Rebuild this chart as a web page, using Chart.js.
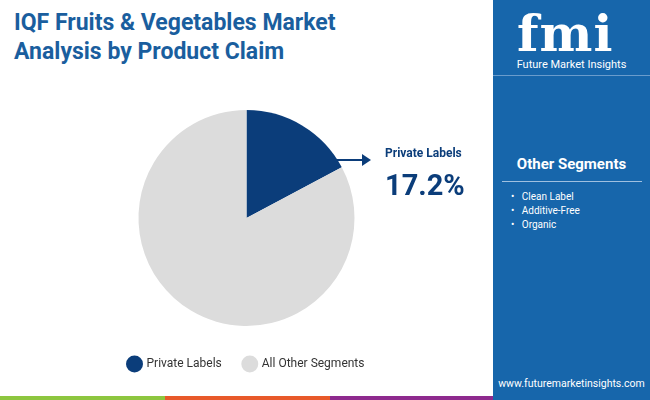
<!DOCTYPE html><html><head><meta charset="utf-8">
<script src="https://cdn.jsdelivr.net/npm/chart.js@4"></script>
<style>
body{margin:0;width:650px;height:400px;position:relative;overflow:hidden;background:#fff;font-family:Roboto,sans-serif}
#title{position:absolute;left:14px;top:8px;color:#1a5e9e;font:bold 23px/29px Roboto;}
#panel{position:absolute;left:493px;top:0;width:157px;height:400px;background:#1766ab;color:#fff}
#wrap{position:absolute;left:0;top:100px;width:493px;height:280px}
.s{position:absolute;bottom:0;height:4px}
</style></head><body>
<div id="title">IQF Fruits &amp; Vegetables Market<br>Analysis by Product Claim</div>
<div id="panel">
 <div style="position:absolute;left:24px;top:8px;font:bold 50px/52px 'DejaVu Serif';letter-spacing:1px">fmi</div>
 <div style="position:absolute;left:0;width:157px;top:58px;text-align:center;font:11px Roboto">Future Market Insights</div>
 <div style="position:absolute;left:0;top:75px;width:157px;height:1px;background:#6a9ccc"></div>
 <div style="position:absolute;left:0;width:157px;top:155px;text-align:center;font:bold 15px Roboto">Other Segments</div>
 <div style="position:absolute;left:9px;top:181px;width:140px;height:1px;background:#9fc0e0"></div>
 <div style="position:absolute;left:18px;top:190px;font:10px/14px Roboto">•&nbsp;&nbsp;&nbsp;Clean Label<br>•&nbsp;&nbsp;&nbsp;Additive-Free<br>•&nbsp;&nbsp;&nbsp;Organic</div>
 <div style="position:absolute;left:0;width:157px;top:377px;text-align:center;font:10.5px Roboto">www.futuremarketinsights.com</div>
</div>
<div id="wrap"><canvas id="c"></canvas></div>
<div style="position:absolute;left:336px;top:159px;width:28px;height:2px;background:#0b3d7a"></div>
<div style="position:absolute;left:362px;top:154px;width:0;height:0;border-left:9px solid #0b3d7a;border-top:6px solid transparent;border-bottom:6px solid transparent"></div>
<div style="position:absolute;left:385px;top:146px;color:#0b3d7a;font:bold 12px Roboto">Private Labels</div>
<div style="position:absolute;left:385px;top:168px;color:#0b3d7a;font:bold 29px Roboto">17.2%</div>
<div class="s" style="left:0;width:165px;background:#8dc63f"></div>
<div class="s" style="left:165px;width:165px;background:#e8592a"></div>
<div class="s" style="left:330px;width:163px;background:#8e2a8e"></div>
<script>
const categories=["Private Labels","All Other Segments"];
const values=[17.2,82.8];
const colors=["#0b3d7a","#dcdcdc"];
new Chart(document.getElementById('c'),{type:'pie',
data:{labels:categories,datasets:[{data:values,backgroundColor:colors,borderWidth:0,radius:108}]},
options:{responsive:true,maintainAspectRatio:false,animation:false,
plugins:{tooltip:{enabled:false},legend:{position:'bottom',labels:{usePointStyle:true,pointStyle:'circle',boxWidth:16,boxHeight:16,padding:22,color:'#333',font:{family:'Roboto',size:12}}}}}});
</script></body></html>
